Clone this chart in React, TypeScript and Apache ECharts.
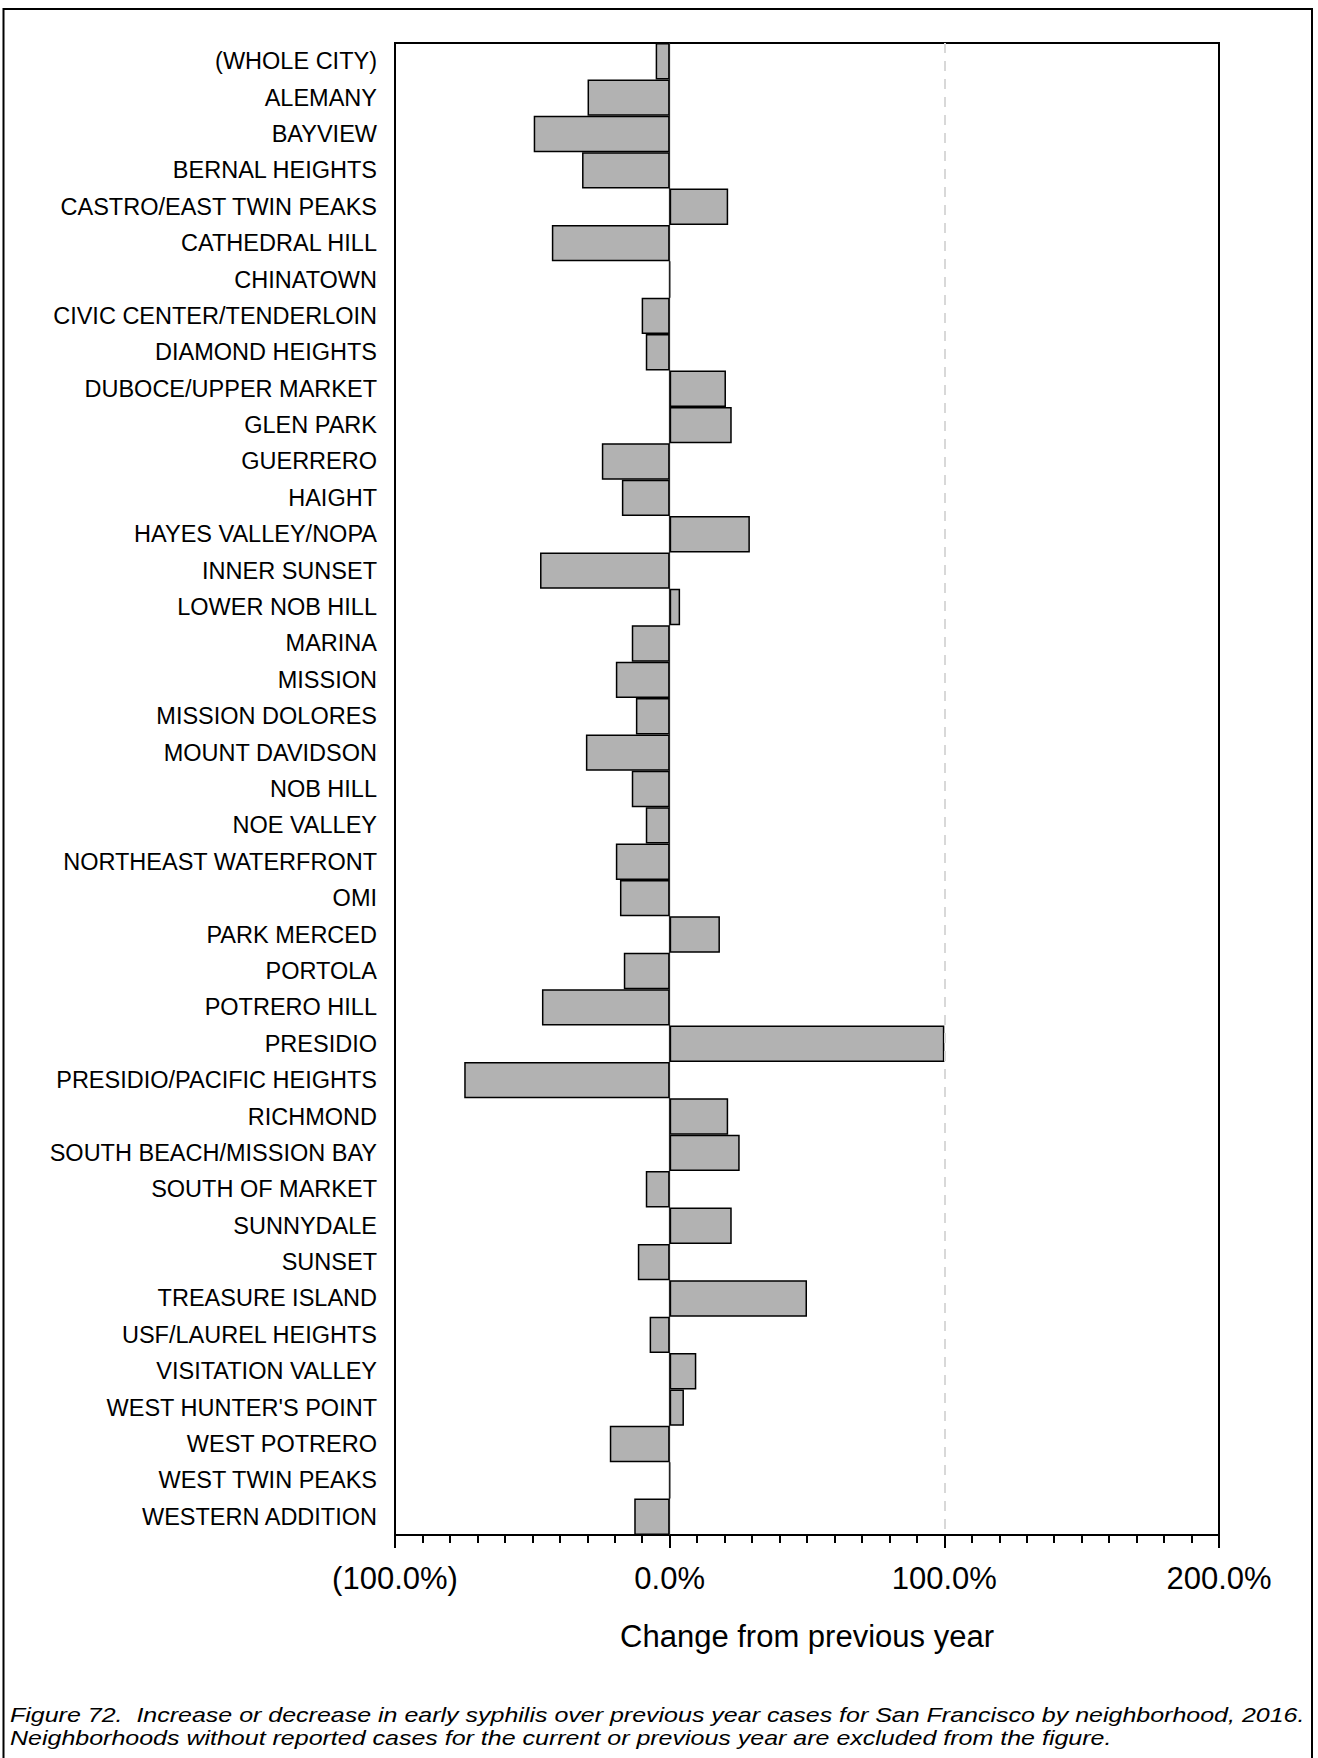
import React, { useEffect, useRef } from "react";
import * as echarts from "echarts";

const categories = [
  "(WHOLE CITY)", "ALEMANY", "BAYVIEW", "BERNAL HEIGHTS", "CASTRO/EAST TWIN PEAKS",
  "CATHEDRAL HILL", "CHINATOWN", "CIVIC CENTER/TENDERLOIN", "DIAMOND HEIGHTS",
  "DUBOCE/UPPER MARKET", "GLEN PARK", "GUERRERO", "HAIGHT", "HAYES VALLEY/NOPA",
  "INNER SUNSET", "LOWER NOB HILL", "MARINA", "MISSION", "MISSION DOLORES",
  "MOUNT DAVIDSON", "NOB HILL", "NOE VALLEY", "NORTHEAST WATERFRONT", "OMI",
  "PARK MERCED", "PORTOLA", "POTRERO HILL", "PRESIDIO", "PRESIDIO/PACIFIC HEIGHTS",
  "RICHMOND", "SOUTH BEACH/MISSION BAY", "SOUTH OF MARKET", "SUNNYDALE", "SUNSET",
  "TREASURE ISLAND", "USF/LAUREL HEIGHTS", "VISITATION VALLEY", "WEST HUNTER'S POINT",
  "WEST POTRERO", "WEST TWIN PEAKS", "WESTERN ADDITION",
];

// Percent change from previous year
const changeValues = [
  -5.1, -29.9, -49.5, -31.9, 21.3,
  -42.9, 0, -10.2, -8.7,
  20.5, 22.6, -24.7, -17.4, 29.2,
  -47.2, 3.8, -13.8, -19.6, -12.3,
  -30.5, -13.8, -8.7, -19.6, -18.1,
  18.3, -16.7, -46.5, 100, -74.8,
  21.3, 25.5, -8.7, 22.6, -11.6,
  50, -7.3, 9.7, 5.2,
  -21.8, 0, -12.9,
];

const referenceLineValues = [100];
const xAxisName = "Change from previous year";
const captionLines = [
  "Figure 72.  Increase or decrease in early syphilis over previous year cases for San Francisco by neighborhood, 2016.",
  "Neighborhoods without reported cases for the current or previous year are excluded from the figure.",
];

const FONT = "'Liberation Sans', Arial, sans-serif";

export default function App() {
  const ref = useRef<HTMLDivElement>(null);

  useEffect(() => {
    document.body.style.margin = "0";
    if (!ref.current) return;
    const chart = echarts.init(ref.current, null, { renderer: "svg" });
    chart.setOption({
      animation: false,
      backgroundColor: "#ffffff",
      textStyle: { fontFamily: FONT },
      grid: {
        left: 395,
        right: 99,
        top: 43,
        bottom: 223,
        show: true,
        borderColor: "#000",
        borderWidth: 2,
        backgroundColor: "transparent",
      },
      xAxis: {
        type: "value",
        min: -100,
        max: 200,
        interval: 100,
        name: xAxisName,
        nameLocation: "middle",
        nameGap: 86,
        nameTextStyle: { fontSize: 31, color: "#000", fontFamily: FONT },
        axisLine: { show: true, lineStyle: { color: "#000", width: 2 } },
        axisTick: { show: true, length: 13, lineStyle: { color: "#000", width: 2 } },
        minorTick: { show: true, splitNumber: 10, length: 8, lineStyle: { color: "#000", width: 2 } },
        splitLine: { show: false },
        axisLabel: {
          fontSize: 31,
          color: "#000",
          margin: 28,
          fontFamily: FONT,
          formatter: (v: number) => (v < 0 ? `(${(-v).toFixed(1)}%)` : `${v.toFixed(1)}%`),
        },
      },
      yAxis: {
        type: "category",
        data: categories,
        inverse: true,
        axisLine: { show: false, onZero: false },
        axisTick: { show: false },
        splitLine: { show: false },
        axisLabel: { fontSize: 23.5, color: "#000", margin: 18, fontFamily: FONT },
      },
      series: [
        {
          type: "line",
          data: [],
          z: 1,
          silent: true,
          markLine: {
            silent: true,
            symbol: "none",
            label: { show: false },
            lineStyle: { color: "#d8d8d8", width: 2, type: [10, 8] },
            data: referenceLineValues.map((v) => ({ xAxis: v })),
          },
        },
        {
          type: "bar",
          data: changeValues,
          z: 2,
          barCategoryGap: "0%",
          itemStyle: { color: "#b2b2b2", borderColor: "#000", borderWidth: 1.5 },
          markLine: {
            silent: true,
            symbol: "none",
            label: { show: false },
            lineStyle: { color: "#222", width: 1.2, type: "solid" },
            data: [{ xAxis: 0 }],
          },
        },
      ],
      graphic: [
        {
          type: "rect",
          shape: { x: 3.5, y: 9, width: 1308.5, height: 1800 },
          style: { fill: "none", stroke: "#000", lineWidth: 2 },
          silent: true,
        },
        {
          type: "text",
          x: 10,
          y: 1703,
          scaleX: 1.19,
          style: {
            text: captionLines.join("\n"),
            font: `italic 21px ${FONT}`,
            fill: "#000",
            lineHeight: 23,
            verticalAlign: "top",
          },
        },
      ],
    });
    return () => chart.dispose();
  }, []);

  return <div ref={ref} style={{ width: 1318, height: 1758 }} />;
}
